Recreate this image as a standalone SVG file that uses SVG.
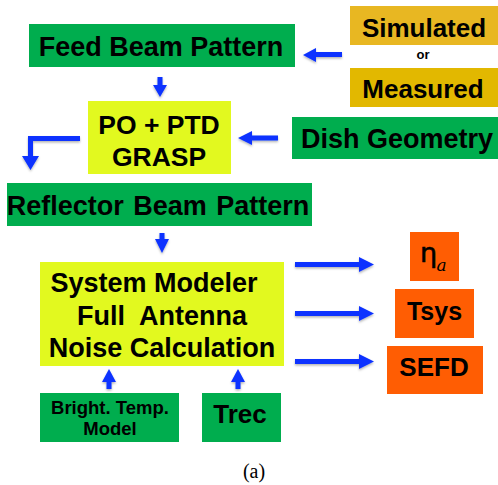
<svg xmlns="http://www.w3.org/2000/svg" width="498" height="485" viewBox="0 0 498 485">
  <style>
    .lbl { font-family: "Liberation Sans", Arial, sans-serif; font-weight: bold; fill: #000; text-anchor: middle; }
    .green { fill: #00AD4E; }
    .yellow { fill: #E2F91F; }
    .gold1 { fill: #E8B722; }
    .gold2 { fill: #E2B800; }
    .orange { fill: #FF5D03; }
    .arrow { fill: #0A33FF; filter: url(#shadow); }
  </style>
  <defs>
    <filter id="shadow" x="-20%" y="-30%" width="140%" height="180%">
      <feDropShadow dx="0" dy="1.5" stdDeviation="1" flood-color="#000" flood-opacity="0.3"/>
    </filter>
  </defs>

  <g id="simulated">
    <rect class="gold1" x="350" y="6" width="148" height="39"/>
    <text class="lbl" x="424" y="37" font-size="26">Simulated</text>
  </g>
  <g id="or-label">
    <text class="lbl" x="423" y="59" font-size="13">or</text>
  </g>
  <g id="measured">
    <rect class="gold2" x="350" y="68" width="148" height="39"/>
    <text class="lbl" x="423" y="98" font-size="26">Measured</text>
  </g>
  <g id="feed-beam">
    <rect class="green" x="29" y="24" width="266" height="43"/>
    <text class="lbl" x="161" y="56" font-size="27">Feed Beam Pattern</text>
  </g>
  <g id="po-ptd">
    <rect class="yellow" x="88" y="101" width="143" height="73"/>
    <text class="lbl" x="159" y="134" font-size="26.5">PO + PTD</text>
    <text class="lbl" x="159" y="166" font-size="26.5">GRASP</text>
  </g>
  <g id="dish-geometry">
    <rect class="green" x="292" y="117" width="206" height="42"/>
    <text class="lbl" x="397" y="148" font-size="27">Dish Geometry</text>
  </g>
  <g id="reflector-beam">
    <rect class="green" x="7" y="183" width="305" height="43"/>
    <text class="lbl" x="158" y="215" font-size="27" word-spacing="2">Reflector Beam Pattern</text>
  </g>
  <g id="system-modeler">
    <rect class="yellow" x="40" y="262" width="244" height="104"/>
    <text class="lbl" x="154" y="292" font-size="27">System Modeler</text>
    <text class="lbl" x="162" y="325" font-size="27" xml:space="preserve">Full  Antenna</text>
    <text class="lbl" x="162" y="357" font-size="27">Noise Calculation</text>
  </g>
  <g id="eta-a">
    <rect class="orange" x="410" y="232" width="49" height="49"/>
    <text x="428.5" y="262" font-family="'DejaVu Sans', sans-serif" font-size="27" text-anchor="middle" fill="#000" stroke="#000" stroke-width="0.6">η</text>
    <text x="441.5" y="271" font-family="'DejaVu Serif', 'Liberation Serif', serif" font-style="italic" font-size="17" text-anchor="middle" fill="#000">a</text>
  </g>
  <g id="tsys">
    <rect class="orange" x="395" y="289" width="79" height="49"/>
    <text class="lbl" x="434.5" y="320" font-size="25">Tsys</text>
  </g>
  <g id="sefd">
    <rect class="orange" x="387" y="346" width="96" height="48"/>
    <text class="lbl" x="434" y="376" font-size="26">SEFD</text>
  </g>
  <g id="bright-temp">
    <rect class="green" x="40" y="393" width="139" height="49"/>
    <text class="lbl" x="110" y="414" font-size="18.5">Bright. Temp.</text>
    <text class="lbl" x="110" y="434.5" font-size="18.5">Model</text>
  </g>
  <g id="trec">
    <rect class="green" x="202" y="393" width="79" height="49"/>
    <text class="lbl" x="240" y="423" font-size="26">Trec</text>
  </g>

  <g id="connectors">
    <!-- Simulated / Measured -> Feed Beam Pattern -->
    <polygon class="arrow" points="342,52 316,52 316,48 303,55 316,62 316,57 342,57"/>
    <!-- Feed Beam Pattern -> PO + PTD -->
    <polygon class="arrow" points="157.5,77 162.5,77 162.5,85 167,85 160,97 153,85 157.5,85"/>
    <!-- Dish Geometry -> PO + PTD -->
    <polygon class="arrow" points="278,135.5 252,135.5 252,131 238,138 252,145 252,140.5 278,140.5"/>
    <!-- PO + PTD -> Reflector Beam Pattern (elbow) -->
    <polygon class="arrow" points="80,136 28,136 28,156 22,156 30.5,170 39,156 33,156 33,141 80,141"/>
    <!-- Reflector Beam Pattern -> System Modeler -->
    <polygon class="arrow" points="159.5,233 164.5,233 164.5,239 169,239 162,253 155,239 159.5,239"/>
    <!-- System Modeler -> outputs -->
    <polygon class="arrow" points="295,262 359,262 359,257 374,264.5 359,272 359,267 295,267"/>
    <polygon class="arrow" points="295,311 359,311 359,306 374,313.5 359,321 359,316 295,316"/>
    <polygon class="arrow" points="295,359 359,359 359,354 374,361.5 359,369 359,364 295,364"/>
    <!-- Inputs -> System Modeler -->
    <polygon class="arrow" points="106.5,389 111.5,389 111.5,382 116,382 109,369 102,382 106.5,382"/>
    <polygon class="arrow" points="235.5,389 240.5,389 240.5,382 245,382 238,369 231,382 235.5,382"/>
  </g>

  <text x="254" y="478" font-family="'Liberation Serif', 'DejaVu Serif', serif" font-size="20" text-anchor="middle" fill="#000">(a)</text>
</svg>
